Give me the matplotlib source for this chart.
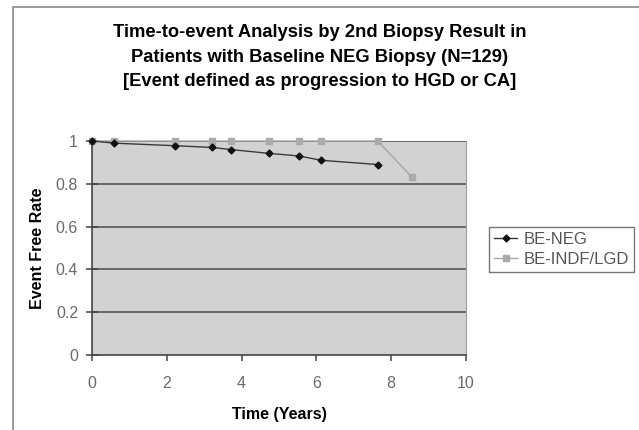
import matplotlib
matplotlib.use("Agg")
import matplotlib.pyplot as plt
from matplotlib.patches import Rectangle

plt.rcParams['font.family'] = ['Liberation Sans', 'DejaVu Sans']

neg_x = [0, 0.59, 2.21, 3.2, 3.72, 4.74, 5.54, 6.12, 7.64]
neg_y = [1.0, 0.99, 0.978, 0.97, 0.96, 0.942, 0.93, 0.91, 0.89]
indf_x = [0, 0.59, 2.21, 3.2, 3.72, 4.74, 5.54, 6.12, 7.64, 8.56]
indf_y = [1.0, 1.0, 1.0, 1.0, 1.0, 1.0, 1.0, 1.0, 1.0, 0.83]
x_ticks = [0, 2, 4, 6, 8, 10]
y_ticks = [0, 0.2, 0.4, 0.6, 0.8, 1.0]
y_labels = ['0', '0.2', '0.4', '0.6', '0.8', '1']

W, H = 639, 430
fig = plt.figure(figsize=(W / 100, H / 100), dpi=100)

# outer chart frame
fig.patches.append(Rectangle((13 / W, -0.05), 1.1, (H - 7) / H + 0.05,
                             transform=fig.transFigure, fill=False,
                             edgecolor='#8a8a8a', lw=1.2))

ax = fig.add_axes([92 / W, 1 - 355 / H, (466 - 92) / W, (355 - 141) / H])
ax.set_facecolor('#d2d2d2')
ax.set_xlim(0, 10)
ax.set_ylim(0, 1)

for yv in y_ticks[1:]:
    ax.axhline(yv, color='#555555', lw=1.2, zorder=1)

ax.plot(indf_x, indf_y, color='#a6a6a6', lw=1.0, marker='s', ms=4.5,
        mfc='#ababab', mec='#ababab', label='BE-INDF/LGD', zorder=3, clip_on=False)
ax.plot(neg_x, neg_y, color='#3a3a3a', lw=1.0, marker='D', ms=3.5,
        mfc='#111111', mec='#111111', label='BE-NEG', zorder=4, clip_on=False)

ax.spines['top'].set_visible(False)
ax.spines['right'].set_color('#a0a0a0')
ax.spines['left'].set_color('#444444')
ax.spines['bottom'].set_color('#444444')
ax.spines['left'].set_linewidth(1.2)
ax.spines['bottom'].set_linewidth(1.2)

ax.set_xticks(x_ticks)
ax.set_yticks(y_ticks)
ax.set_yticklabels(y_labels)
ax.tick_params(axis='both', direction='inout', length=8, width=1.1,
               color='#444444', labelcolor='#6a6a6a', labelsize=11.5)
ax.tick_params(axis='x', direction='out', length=4, pad=11)
ax.tick_params(axis='y', pad=6)

ax.set_xlabel('Time (Years)', fontsize=11.5, fontweight='bold', labelpad=12)
ax.set_ylabel('Event Free Rate', fontsize=11.5, fontweight='bold', labelpad=8)

fig.text(0.5, 1 - 57 / H,
         'Time-to-event Analysis by 2nd Biopsy Result in\n'
         'Patients with Baseline NEG Biopsy (N=129)\n'
         '[Event defined as progression to HGD or CA]',
         ha='center', va='center', fontsize=13.2, fontweight='bold',
         linespacing=1.55)

handles, labels = ax.get_legend_handles_labels()
leg = fig.legend(handles[::-1], labels[::-1], loc='upper left',
                 bbox_to_anchor=(489 / W, 1 - 227 / H), fontsize=12,
                 frameon=True, fancybox=False, edgecolor='#555555',
                 handlelength=1.4, handletextpad=0.35, borderpad=0.3,
                 labelspacing=0.3, labelcolor='#555555', borderaxespad=0)
leg.get_frame().set_linewidth(1.0)

fig.savefig('out.png', dpi=100, facecolor='white')
